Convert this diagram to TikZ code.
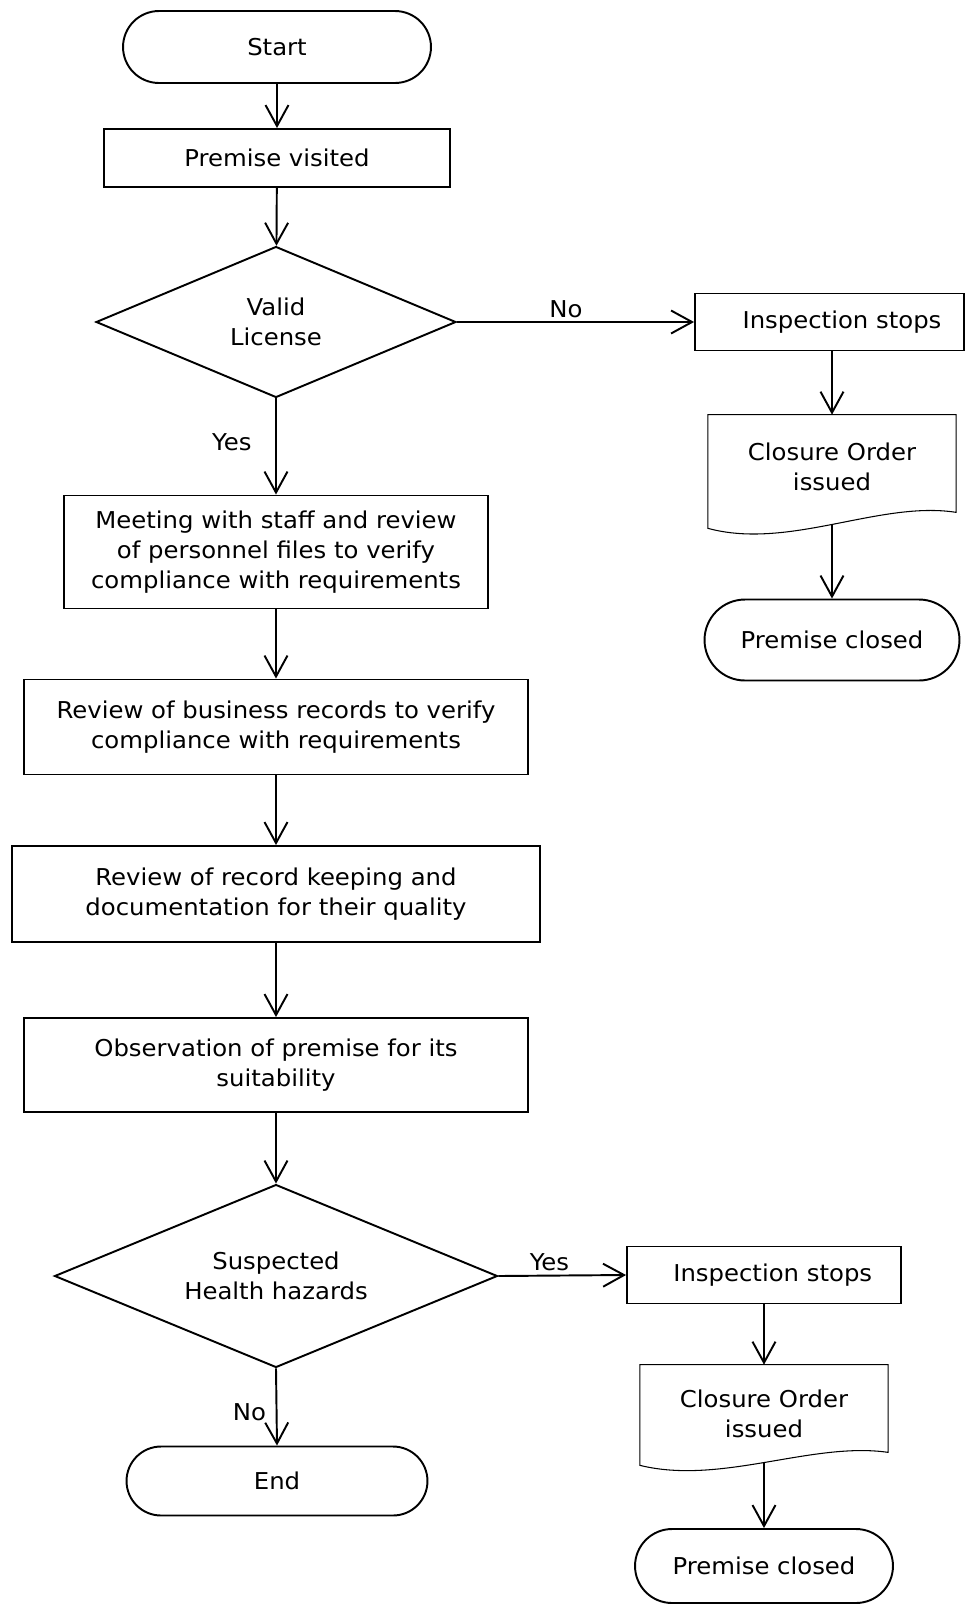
\documentclass[tikz,border=0pt]{standalone}
\usepackage{fontspec}
\setmainfont{DejaVu Sans}[FakeStretch=1.05]
\usetikzlibrary{shapes.geometric,arrows.meta}
\tikzset{
  every node/.style={font=\fontsize{13.2}{17}\selectfont, align=center, inner sep=2pt},
  proc/.style={draw, rectangle, line width=1.1pt},
  term/.style={draw, rectangle, line width=1.1pt},
  decision/.style={draw, diamond, aspect=2.4, line width=1.1pt, inner sep=0pt},
  docu/.style={minimum width=4.95cm},
  docline/.style={line width=0.6pt},
  arr/.style={line width=1.1pt, -{Straight Barb[length=0.42cm,width=0.46cm]}}
}
\begin{document}
\begin{tikzpicture}[x=0.02cm, y=-0.02cm]
	\useasboundingbox (0,0) rectangle (965,1607);
	% main column
	\node[term, minimum width=6.16cm, minimum height=1.44cm, rounded corners=0.72cm] (start) at (277,47) {Start};
	\node[proc, minimum width=6.92cm, minimum height=1.16cm] (visit) at (277,158) {Premise visited};
	\node[decision, minimum width=7.2cm, minimum height=3.02cm] (lic) at (276,322) {Valid\\License};
	\node[proc, minimum width=8.48cm, minimum height=2.26cm] (meet) at (276,552) {Meeting with staff and review\\of personnel files to verify\\compliance with requirements};
	\node[proc, minimum width=10.08cm, minimum height=1.9cm] (busrec) at (276,727) {Review of business records to verify\\compliance with requirements};
	\node[proc, minimum width=10.56cm, minimum height=1.92cm] (keep) at (276,894) {Review of record keeping and\\documentation for their quality};
	\node[proc, minimum width=10.08cm, minimum height=1.88cm] (obs) at (276,1065) {Observation of premise for its\\suitability};
	\node[decision, minimum width=8.86cm, minimum height=3.66cm] (haz) at (276,1276) {Suspected\\Health hazards};
	\node[term, minimum width=6.02cm, minimum height=1.38cm, rounded corners=0.69cm] (end) at (277,1481) {End};
	% first branch
	\node[proc, minimum width=5.38cm, minimum height=1.14cm] (stopa) at (829.5,322) {\hspace{0.5cm}Inspection stops};
	\node[docu, minimum height=2.08cm] (closa) at (832,467) {Closure Order\\issued};
	\draw[docline] (closa.north west) -- (closa.north east) -- ([yshift=0.14cm]closa.south east)
		.. controls ([xshift=-1.52cm,yshift=0.38cm]closa.south east) and ([xshift=1.62cm,yshift=-0.62cm]closa.south west) .. ([yshift=-0.18cm]closa.south west) -- cycle;
	\node[term, minimum width=5.1cm, minimum height=1.62cm, rounded corners=0.81cm] (shuta) at (832,640) {Premise closed};
	% second branch
	\node[proc, minimum width=5.48cm, minimum height=1.14cm] (stopb) at (764,1275) {\hspace{0.35cm}Inspection stops};
	\node[docu, minimum height=1.96cm] (closb) at (764,1414) {Closure Order\\issued};
	\draw[docline] (closb.north west) -- (closb.north east) -- ([yshift=0.22cm]closb.south east)
		.. controls ([xshift=-1.52cm,yshift=0.44cm]closb.south east) and ([xshift=1.62cm,yshift=-0.44cm]closb.south west) .. ([yshift=-0.04cm]closb.south west) -- cycle;
	\node[term, minimum width=5.16cm, minimum height=1.48cm, rounded corners=0.74cm] (shutb) at (764,1566) {Premise closed};
	% connectors
	\draw[arr] (start) -- (visit);
	\draw[arr] (visit) -- (lic);
	\draw[arr] (lic.east) -- node[above, pos=0.46] {No} (stopa.west);
	\draw[arr] (lic.south) -- node[left, midway, xshift=-0.4cm, yshift=0.08cm] {Yes} (meet.north);
	\draw[arr] (meet) -- (busrec);
	\draw[arr] (busrec) -- (keep);
	\draw[arr] (keep) -- (obs);
	\draw[arr] (obs) -- (haz);
	\draw[arr] (haz.east) -- node[above, pos=0.4] {Yes} (stopb.west);
	\draw[arr] (haz.south) -- node[left, midway, xshift=-0.12cm, yshift=-0.1cm] {No} (end.north);
	\draw[arr] (stopa.south -| closa.north) -- (closa.north);
	\draw[arr] ([yshift=-0.1cm]closa.south) -- (shuta.north);
	\draw[arr] (stopb.south -| closb.north) -- (closb.north);
	\draw[arr] (closb.south) -- (shutb.north);
\end{tikzpicture}
\end{document}
